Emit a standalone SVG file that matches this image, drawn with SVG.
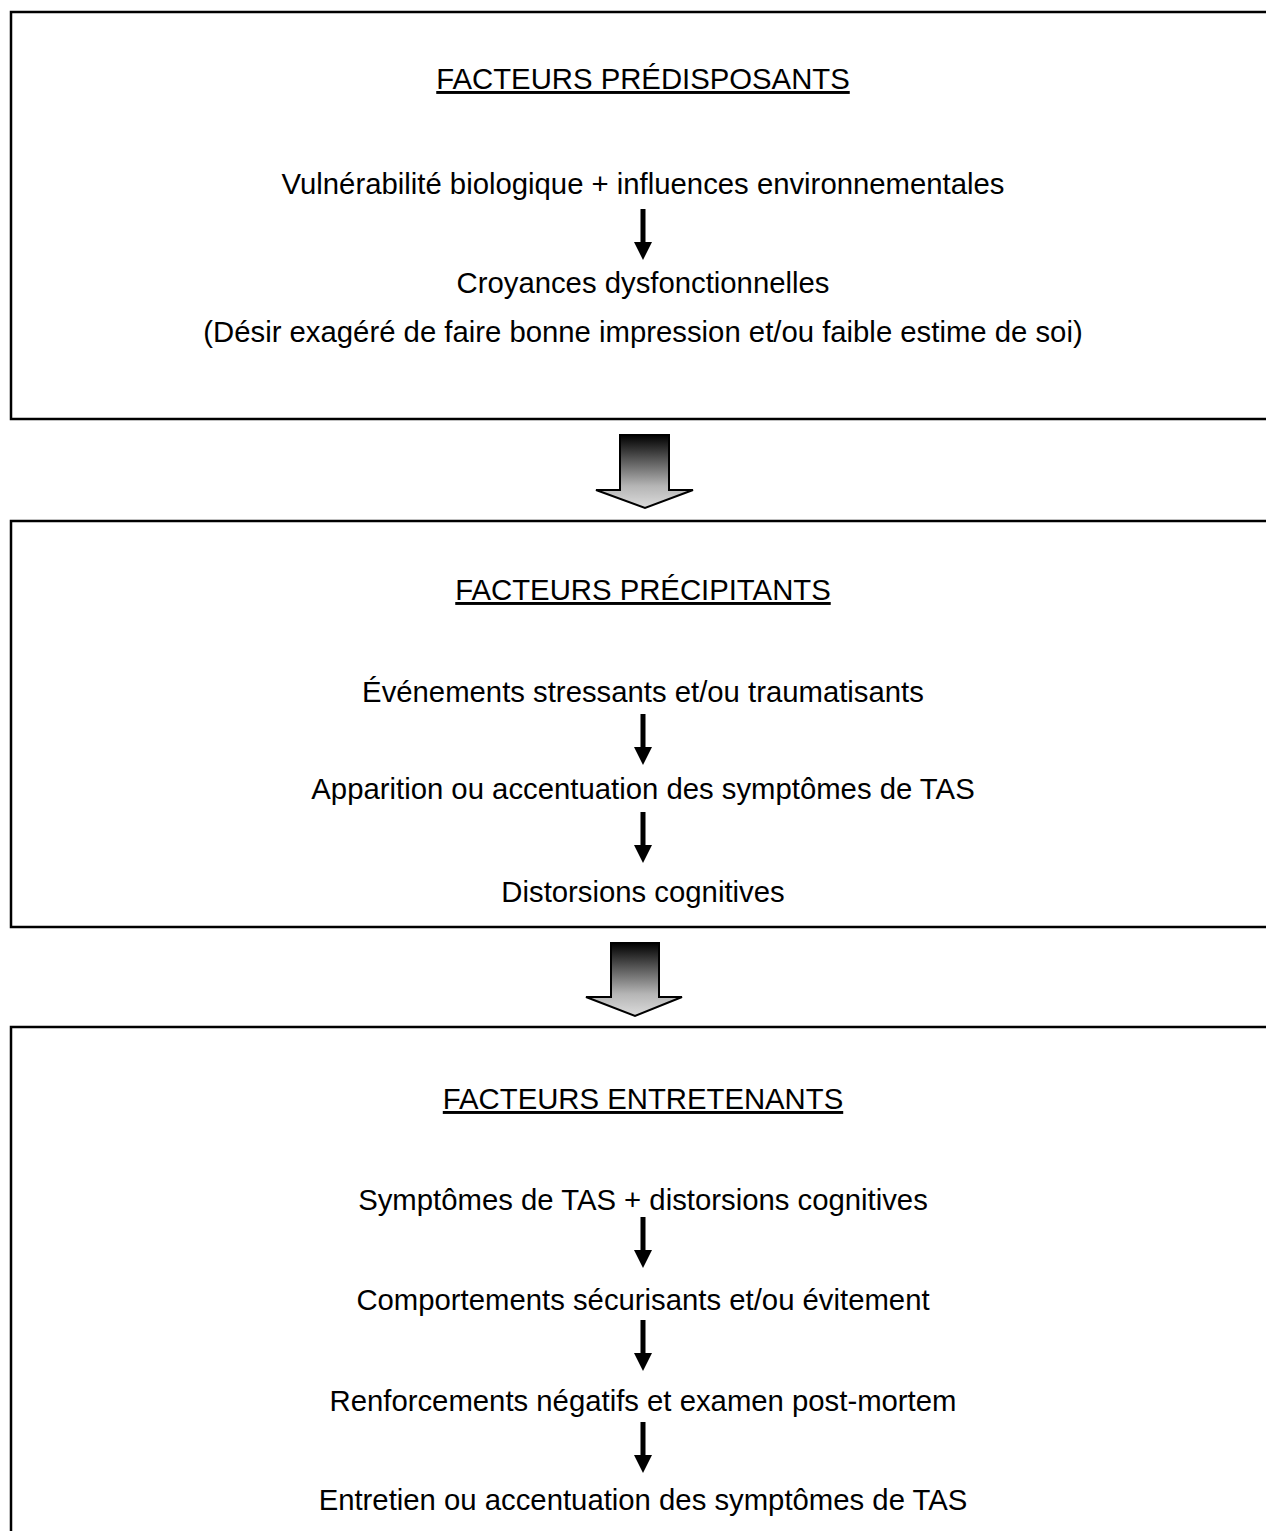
<svg xmlns="http://www.w3.org/2000/svg" width="1266" height="1531" viewBox="0 0 1266 1531">
<defs>
<style>
.box{fill:#fff;stroke:#000;stroke-width:2.5}
.t{font-family:"Liberation Sans",Arial,sans-serif;font-size:29.3px;fill:#000;text-anchor:middle}
.h{text-decoration:underline}
.ar{fill:#000}
.blk{fill:url(#g);stroke:#000;stroke-width:2}
</style>
<linearGradient id="g" x1="0" y1="0" x2="0" y2="1">
<stop offset="0" stop-color="#000"/>
<stop offset="0.7" stop-color="#b5b5b5"/>
<stop offset="1" stop-color="#dcdcdc"/>
</linearGradient>
<g id="sa"><rect x="-2.5" y="0" width="5" height="35"/><polygon points="-9,33 9,33 0,51"/></g>
</defs>
<rect width="1266" height="1531" fill="#fff"/>
<g id="node1">
<rect class="box" x="11" y="12" width="1270" height="407"/>
<text class="t h" x="643" y="89">FACTEURS PRÉDISPOSANTS</text>
<text class="t" x="643" y="194">Vulnérabilité biologique + influences environnementales</text>
<text class="t" x="643" y="293">Croyances dysfonctionnelles</text>
<text class="t" x="643" y="342">(Désir exagéré de faire bonne impression et/ou faible estime de soi)</text>
</g>
<g id="node2">
<rect class="box" x="11" y="521" width="1270" height="406"/>
<text class="t h" x="643" y="600">FACTEURS PRÉCIPITANTS</text>
<text class="t" x="643" y="702">Événements stressants et/ou traumatisants</text>
<text class="t" x="643" y="799">Apparition ou accentuation des symptômes de TAS</text>
<text class="t" x="643" y="902">Distorsions cognitives</text>
</g>
<g id="node3">
<rect class="box" x="11" y="1027" width="1270" height="520"/>
<text class="t h" x="643" y="1109">FACTEURS ENTRETENANTS</text>
<text class="t" x="643" y="1210">Symptômes de TAS + distorsions cognitives</text>
<text class="t" x="643" y="1310">Comportements sécurisants et/ou évitement</text>
<text class="t" x="643" y="1411">Renforcements négatifs et examen post-mortem</text>
<text class="t" x="643" y="1510">Entretien ou accentuation des symptômes de TAS</text>
</g>
<g id="connectors" class="ar">
<use href="#sa" x="643" y="209"/>
<use href="#sa" x="643" y="714"/>
<use href="#sa" x="643" y="812"/>
<use href="#sa" x="643" y="1217"/>
<use href="#sa" x="643" y="1320"/>
<use href="#sa" x="643" y="1422"/>
<polygon class="blk" points="620,435 669,435 669,490 693,490 645,508 596,490 620,490"/>
<polygon class="blk" points="611,943 659,943 659,997 682,997 635,1016 586,997 611,997"/>
</g>
</svg>
